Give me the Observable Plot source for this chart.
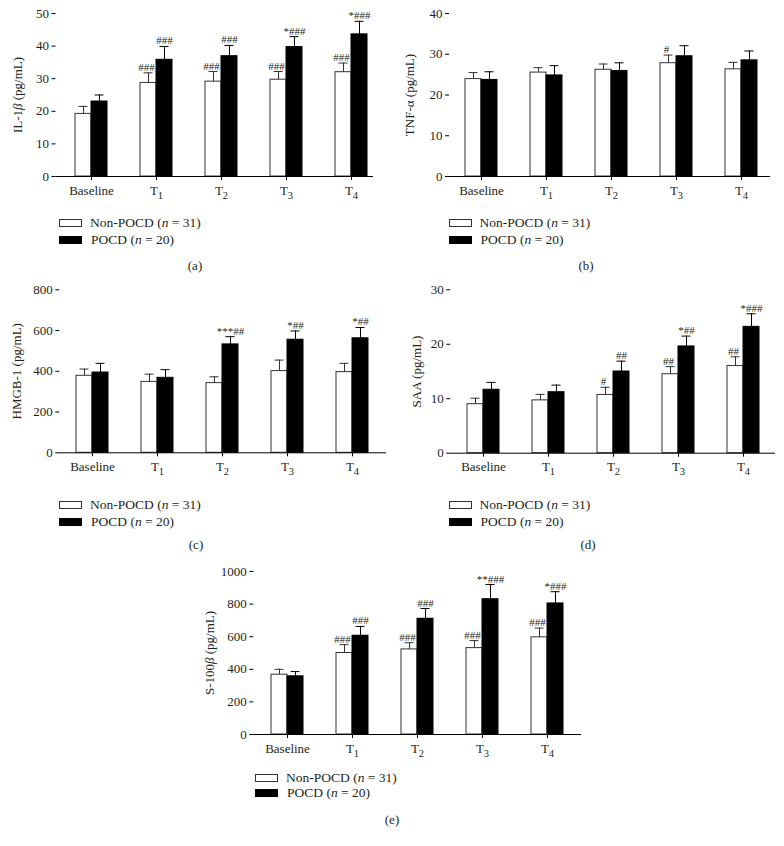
<!DOCTYPE html>
<html><head><meta charset="utf-8">
<script src="https://cdn.jsdelivr.net/npm/d3@7"></script>
<script src="https://cdn.jsdelivr.net/npm/@observablehq/plot@0.6"></script>
<style>
body{margin:0;background:#fff;}
#fig{position:relative;width:784px;height:846px;font-family:"Liberation Serif",serif;color:#231f20;overflow:hidden;}
#fig svg{position:absolute;overflow:visible;}
.row{position:absolute;font-size:13.5px;line-height:14px;white-space:nowrap;transform:translateY(-50%);}
.box{position:absolute;width:21px;height:6px;border:1px solid #333;transform:translateY(-50%);}
.cap{position:absolute;font-size:13px;line-height:14px;transform:translate(-50%,-50%);}
</style></head><body><div id="fig"></div><script>
// ---------- data ----------
const categories = ["Baseline", "T1", "T2", "T3", "T4"];
const groups = ["Non-POCD (n = 31)", "POCD (n = 20)"];

// (a) IL-1β
const il1bNon = [19.2, 28.7, 29.1, 29.7, 32.0];
const il1bNonSD = [2.3, 3.1, 3.1, 2.5, 2.8];
const il1bPocd = [23.0, 35.8, 36.9, 39.7, 43.6];
const il1bPocdSD = [2.0, 4.1, 3.3, 3.2, 4.0];
const il1bNonSig = ["", "###", "###", "###", "###"];
const il1bPocdSig = ["", "###", "###", "*###", "*###"];

// (b) TNF-α
const tnfNon = [23.9, 25.5, 26.2, 27.8, 26.3];
const tnfNonSD = [1.6, 1.2, 1.4, 2.0, 1.7];
const tnfPocd = [23.7, 24.8, 25.9, 29.5, 28.5];
const tnfPocdSD = [2.0, 2.4, 2.0, 2.6, 2.3];
const tnfNonSig = ["", "", "", "#", ""];
const tnfPocdSig = ["", "", "", "", ""];

// (c) HMGB-1
const hmgbNon = [378, 348, 342, 401, 396];
const hmgbNonSD = [33, 38, 31, 54, 43];
const hmgbPocd = [394, 368, 532, 555, 562];
const hmgbPocdSD = [45, 40, 38, 43, 53];
const hmgbNonSig = ["", "", "", "", ""];
const hmgbPocdSig = ["", "", "***##", "*##", "*##"];

// (d) SAA
const saaNon = [9.0, 9.7, 10.7, 14.5, 16.0];
const saaNonSD = [1.1, 1.1, 1.4, 1.4, 1.7];
const saaPocd = [11.65, 11.2, 15.0, 19.6, 23.2];
const saaPocdSD = [1.35, 1.3, 1.9, 1.9, 2.4];
const saaNonSig = ["", "", "#", "##", "##"];
const saaPocdSig = ["", "", "##", "*##", "*###"];

// (e) S-100β
const s100Non = [367, 500, 522, 530, 596];
const s100NonSD = [33, 51, 41, 46, 57];
const s100Pocd = [357, 606, 710, 830, 804];
const s100PocdSD = [29, 57, 63, 90, 72];
const s100NonSig = ["", "###", "###", "###", "###"];
const s100PocdSig = ["", "###", "###", "**###", "*###"];

// y ticks
const ticksA = [0, 10, 20, 30, 40, 50];
const ticksB = [0, 10, 20, 30, 40];
const ticksC = [0, 200, 400, 600, 800];
const ticksD = [0, 10, 20, 30];
const ticksE = [0, 200, 400, 600, 800, 1000];

// ---------- drawing ----------
const fig = document.getElementById("fig");
const BAR = 16, STEP = 65, CAP = 9;
const INK = "#231f20", LINE = "#333";

function panel(cfg) {
  const rows = categories.map((c, i) => ({
    cat: c,
    non: cfg.non[i], nonHi: cfg.non[i] + cfg.nonSD[i], nonSig: cfg.nonSig[i],
    pocd: cfg.pocd[i], pocdHi: cfg.pocd[i] + cfg.pocdSD[i], pocdSig: cfg.pocdSig[i]
  }));
  const r0 = cfg.c0 - BAR - cfg.left;
  const chart = Plot.plot({
    width: cfg.width, height: cfg.height,
    marginLeft: cfg.axisX - cfg.left,
    marginRight: cfg.left + cfg.width - cfg.xEnd,
    marginTop: cfg.yTop - cfg.top,
    marginBottom: cfg.top + cfg.height - cfg.yBottom,
    style: {fontFamily: "'Liberation Serif', serif", fontSize: "13px", color: INK, background: "transparent"},
    x: {domain: categories, range: [r0, r0 + STEP * 4 + 2 * BAR], paddingInner: 1 - 2 * BAR / STEP, paddingOuter: 0},
    y: {domain: [cfg.ticks[0], cfg.ticks[cfg.ticks.length - 1]]},
    marks: [
      Plot.barY(rows, {x: "cat", y1: 0, y2: "non", insetRight: BAR, fill: "white", stroke: LINE, strokeWidth: 1}),
      Plot.ruleX(rows, {x: "cat", y1: "non", y2: "nonHi", dx: -BAR / 2, stroke: LINE}),
      Plot.tickY(rows, {x: "cat", y: "nonHi", insetLeft: BAR / 2 - CAP / 2, insetRight: BAR + BAR / 2 - CAP / 2, stroke: LINE}),
      Plot.barY(rows, {x: "cat", y1: 0, y2: "pocd", insetLeft: BAR, fill: "black", stroke: "black", strokeWidth: 1}),
      Plot.ruleX(rows, {x: "cat", y1: "pocd", y2: "pocdHi", dx: BAR / 2, stroke: "black"}),
      Plot.tickY(rows, {x: "cat", y: "pocdHi", insetLeft: BAR + BAR / 2 - CAP / 2, insetRight: BAR / 2 - CAP / 2, stroke: "black"}),
      Plot.text(rows, {x: "cat", y: "nonHi", text: "nonSig", dx: -BAR / 2 - 2, dy: -2, lineAnchor: "bottom", fontSize: 11, fill: INK}),
      Plot.text(rows, {x: "cat", y: "pocdHi", text: "pocdSig", dx: BAR / 2, dy: -2, lineAnchor: "bottom", fontSize: 11, fill: INK}),
      Plot.ruleY([0], {stroke: "black"}),
      Plot.axisX({tickSize: 4, tickPadding: 5, label: null, stroke: "black"}),
      Plot.axisY({ticks: cfg.ticks, tickFormat: d => String(d), tickSize: 4, tickPadding: 3, line: true, stroke: "black",
        label: cfg.label, labelAnchor: "center", labelArrow: "none", labelOffset: cfg.labelOffset})
    ]
  });
  chart.style.left = cfg.left + "px";
  chart.style.top = cfg.top + "px";
  chart.querySelectorAll('g[aria-label="x-axis tick label"] text').forEach(t => {
    const m = t.textContent.match(/^T(\d)$/);
    if (m) t.innerHTML = `T<tspan dy="4" font-size="10.5">${m[1]}</tspan>`;
  });
  const lab = chart.querySelector('g[aria-label="y-axis label"] text');
  if (lab && cfg.labelHTML) lab.innerHTML = cfg.labelHTML;
  fig.appendChild(chart);
}

function legend(boxX, y1, y2, textX) {
  const items = [["white", groups[0], y1], ["black", groups[1], y2]];
  items.forEach(([fill, txt, y], i) => {
    const b = document.createElement("div");
    b.className = "box";
    b.style.left = boxX + "px"; b.style.top = y + "px"; b.style.background = fill;
    if (fill === "black") b.style.borderColor = "black";
    fig.appendChild(b);
    const t = document.createElement("div");
    t.className = "row";
    t.style.left = (textX + i) + "px"; t.style.top = y + "px";
    t.innerHTML = txt.replace("(n", "(<i>n</i>");
    fig.appendChild(t);
  });
}
function caption(txt, x, y) {
  const c = document.createElement("div");
  c.className = "cap"; c.textContent = txt;
  c.style.left = x + "px"; c.style.top = y + "px";
  fig.appendChild(c);
}

panel({left: 0, top: 0, width: 392, height: 210, axisX: 55.5, yTop: 13, yBottom: 176, xEnd: 373, c0: 91,
  ticks: ticksA, label: "IL-1β (pg/mL)", labelHTML: 'IL-1<tspan font-style="italic">β</tspan> (pg/mL)', labelOffset: 43,
  non: il1bNon, nonSD: il1bNonSD, pocd: il1bPocd, pocdSD: il1bPocdSD, nonSig: il1bNonSig, pocdSig: il1bPocdSig});
panel({left: 392, top: 0, width: 392, height: 210, axisX: 449, yTop: 13, yBottom: 176, xEnd: 770, c0: 481,
  ticks: ticksB, label: "TNF-α (pg/mL)", labelOffset: 45,
  non: tnfNon, nonSD: tnfNonSD, pocd: tnfPocd, pocdSD: tnfPocdSD, nonSig: tnfNonSig, pocdSig: tnfPocdSig});
panel({left: 0, top: 280, width: 392, height: 210, axisX: 59.3, yTop: 289.3, yBottom: 452.3, xEnd: 386, c0: 92.3,
  ticks: ticksC, label: "HMGB-1 (pg/mL)", labelOffset: 48,
  non: hmgbNon, nonSD: hmgbNonSD, pocd: hmgbPocd, pocdSD: hmgbPocdSD, nonSig: hmgbNonSig, pocdSig: hmgbPocdSig});
panel({left: 392, top: 280, width: 392, height: 210, axisX: 450.3, yTop: 289.3, yBottom: 452.7, xEnd: 775, c0: 482.7,
  ticks: ticksD, label: "SAA (pg/mL)", labelOffset: 39,
  non: saaNon, nonSD: saaNonSD, pocd: saaPocd, pocdSD: saaPocdSD, nonSig: saaNonSig, pocdSig: saaPocdSig});
panel({left: 200, top: 560, width: 392, height: 210, axisX: 253.3, yTop: 571, yBottom: 734, xEnd: 581, c0: 287.3,
  ticks: ticksE, label: "S-100β (pg/mL)", labelHTML: 'S-100<tspan font-style="italic">β</tspan> (pg/mL)', labelOffset: 49,
  non: s100Non, nonSD: s100NonSD, pocd: s100Pocd, pocdSD: s100PocdSD, nonSig: s100NonSig, pocdSig: s100PocdSig});

legend(59.3, 223.3, 240, 90);
legend(449.3, 223.3, 240, 479.5);
legend(59.3, 505, 522, 90);
legend(449.3, 505, 522, 479.5);
legend(255, 778.3, 793.3, 286);
caption("(a)", 195, 266);
caption("(b)", 586, 266);
caption("(c)", 196, 545);
caption("(d)", 588, 545);
caption("(e)", 392, 820);
</script></body></html>
